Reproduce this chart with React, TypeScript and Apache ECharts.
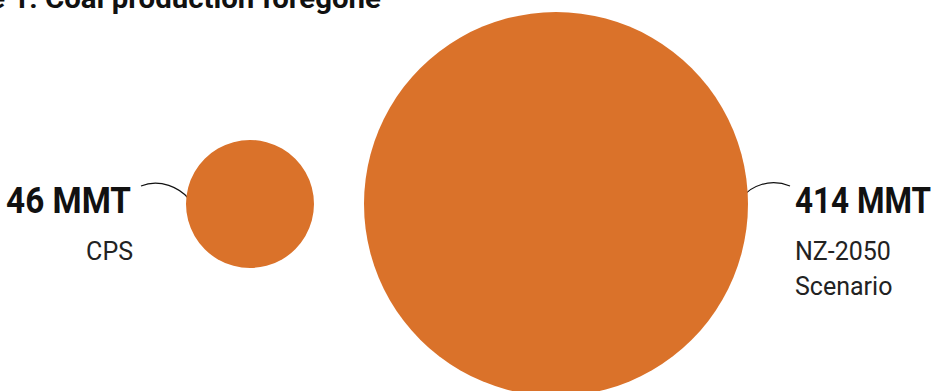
import React, { useEffect, useRef } from "react";
import * as echarts from "echarts";

const categories = ["CPS", "NZ-2050 Scenario"];
const values = [46, 414];
const valueLabels = ["46 MMT", "414 MMT"];
const scenarioLabels = ["CPS", "NZ-2050\nScenario"];
const titleText = "Figure 1: Coal production foregone";

const ORANGE = "#da722a";
const FONT = "Roboto, 'Noto Sans', sans-serif";

export default function App() {
  const ref = useRef<HTMLDivElement>(null);
  useEffect(() => {
    if (!ref.current) return;
    const chart = echarts.init(ref.current, null, { renderer: "svg" });
    const k = 384 / Math.sqrt(414);
    chart.setOption({
      animation: false,
      backgroundColor: "#ffffff",
      grid: { left: 97, width: 612, top: 17, height: 374 },
      xAxis: { type: "category", data: categories, show: false, boundaryGap: true },
      yAxis: { type: "value", min: -1, max: 1, show: false },
      series: [
        {
          type: "scatter",
          data: values.map((v, i) => [categories[i], 0, v]),
          symbolSize: (d: any) => k * Math.sqrt(d[2]),
          itemStyle: { color: ORANGE, opacity: 1 },
          silent: true,
        },
      ],
      graphic: [
        {
          type: "text",
          x: 381,
          y: -1.5,
          scaleX: 1.09,
          style: { text: titleText, font: `bold 27px ${FONT}`, fill: "#111", align: "right", verticalAlign: "middle" },
        },
        // left annotation
        {
          type: "text",
          x: 131,
          y: 200,
          scaleX: 0.9,
          style: { text: valueLabels[0], font: `bold 37px ${FONT}`, fill: "#111", align: "right", verticalAlign: "middle" },
        },
        {
          type: "text",
          x: 133,
          y: 251.5,
          style: { text: scenarioLabels[0], font: `25px ${FONT}`, fill: "#222", align: "right", verticalAlign: "middle" },
        },
        {
          type: "bezierCurve",
          shape: { x1: 141, y1: 186, x2: 189, y2: 199, cpx1: 160, cpy1: 178, cpx2: 180, cpy2: 188 },
          style: { stroke: "#111", lineWidth: 1.2, fill: null },
        },
        { type: "circle", shape: { cx: 189, cy: 199, r: 1.8 }, style: { fill: "#111" } },
        // right annotation
        {
          type: "text",
          x: 795,
          y: 200,
          scaleX: 0.85,
          style: { text: valueLabels[1], font: `bold 37px ${FONT}`, fill: "#111", align: "left", verticalAlign: "middle" },
        },
        {
          type: "text",
          x: 795,
          y: 269,
          style: { text: scenarioLabels[1], font: `25px ${FONT}`, fill: "#222", align: "left", verticalAlign: "middle", lineHeight: 35 },
        },
        {
          type: "bezierCurve",
          shape: { x1: 790, y1: 186, x2: 742, y2: 198, cpx1: 770, cpy1: 178, cpx2: 750, cpy2: 186 },
          style: { stroke: "#111", lineWidth: 1.2, fill: null },
        },
        { type: "circle", shape: { cx: 742, cy: 198, r: 1.8 }, style: { fill: "#111" } },
      ],
    });
    return () => chart.dispose();
  }, []);
  return (
    <div
      ref={ref}
      style={{ position: "absolute", left: 0, top: 0, width: 931, height: 391 }}
    />
  );
}
